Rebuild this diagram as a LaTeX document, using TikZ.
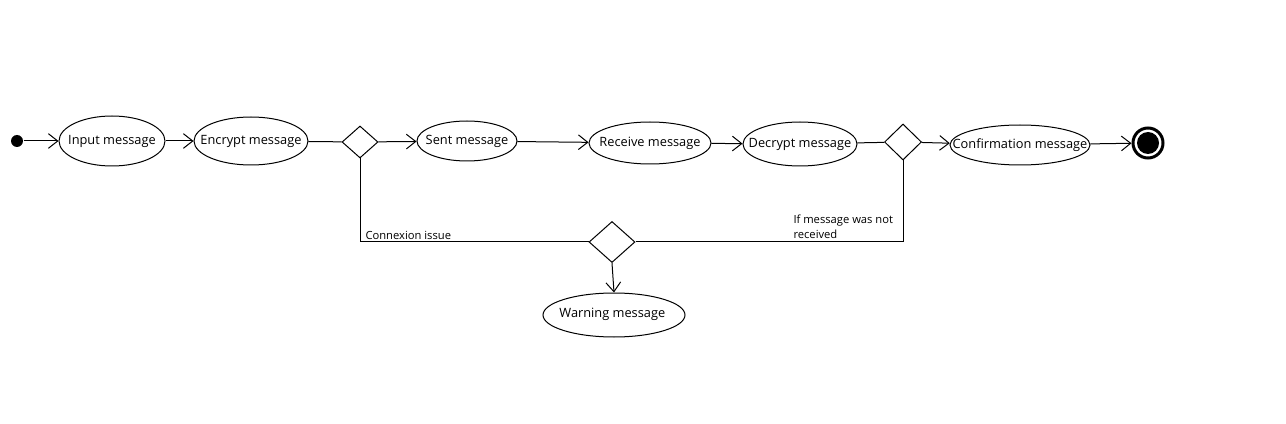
\documentclass[tikz,border=0pt]{standalone}
\usepackage{fontspec}
\setmainfont{Open Sans}
\usetikzlibrary{shapes.geometric,arrows.meta}

\begin{document}
\begin{tikzpicture}[x=0.75pt,y=-0.75pt,line width=0.75pt,
  act/.style={ellipse,draw,inner sep=0pt,font=\fontsize{9.6}{11}\selectfont},
  choice/.style={diamond,draw,inner sep=0pt},
  flow/.style={-{Straight Barb[length=7pt,width=11pt]}},
  note/.style={font=\fontsize{8.4}{11.25}\selectfont,inner sep=0pt}]
\useasboundingbox (0,0) rectangle (1286,424);
% Activities
\foreach \n/\x/\y/\w/\h/\r/\t in {
  inp/112/141/79.5pt/37.5pt/0pt/Input message,
  enc/251/141/85.5pt/36pt/1.5pt/Encrypt message,
  sent/467/141/75pt/30pt/0pt/Sent message,
  recv/650/143/91.5pt/31.5pt/0.75pt/Receive message,
  dec/800/144/85.5pt/33pt/1.5pt/Decrypt message,
  conf/1020/145/105pt/30pt/2.25pt/Confirmation message,
  warn/614/315/106.5pt/33pt/3.75pt/Warning message
} {
  \node[act, minimum width=\w, minimum height=\h] (\n) at (\x,\y) {\makebox[0pt]{\raisebox{\r}{\t}}};
}
% Decisions
\node[choice, minimum width=27pt, minimum height=24pt] (dia1) at (360,142) {};
\node[choice, minimum width=27.75pt, minimum height=27pt] (dia2) at (903,142) {};
\node[choice, minimum width=34.5pt, minimum height=30.75pt] (dia3) at (612,242) {};
% Start and end
\node[circle, fill, inner sep=0pt, minimum size=9pt] (start) at (17,141) {};
\node[circle, draw, line width=2.25pt, inner sep=0pt, minimum size=22.5pt,
  path picture={\fill (path picture bounding box.center) circle (8.25pt);}] (fin) at (1148,143) {};
% Flow
\foreach \a/\b in {start/inp, inp/enc, dia1/sent, sent/recv, recv/dec, dia2/conf, conf/fin}
  \draw[flow] (\a) -- (\b);
\foreach \a/\b in {enc/dia1, dec/dia2}
  \draw (\a) -- (\b);
% Failure branches
\draw (dia1.south) |- (dia3.west);
\draw (dia2.south) |- (dia3.east);
\draw[flow] (dia3.south) -- (warn.north);
\node[note, anchor=base west] (issue) at (365,240) {Connexion issue};
\node[note, anchor=north west, align=left] (lost) at (793,214) {If message was not\\received};
\end{tikzpicture}
\end{document}
